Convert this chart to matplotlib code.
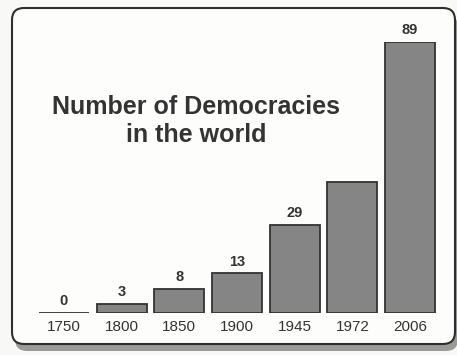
import matplotlib.pyplot as plt
from matplotlib.patches import FancyBboxPatch

years = ["1750", "1800", "1850", "1900", "1945", "1972", "2006"]
democracies = [0, 3, 8, 13, 29, 43, 89]
# the 1972 bar carries no number in the original
value_labels = ["0", "3", "8", "13", "29", "", "89"]

plt.rcParams['font.family'] = ['Liberation Sans', 'DejaVu Sans']

fig = plt.figure(figsize=(4.57, 3.55), dpi=100)
fig.patch.set_facecolor("#f8f8f6")

# drop shadow and rounded frame, kept behind the axes
shadow = FancyBboxPatch((0.15, 0.04), 4.43, 3.36,
                        boxstyle="round,pad=0,rounding_size=0.12",
                        transform=fig.dpi_scale_trans,
                        facecolor="#9a9a9a", edgecolor="none", zorder=-2)
frame = FancyBboxPatch((0.12, 0.11), 4.43, 3.36,
                       boxstyle="round,pad=0,rounding_size=0.12",
                       transform=fig.dpi_scale_trans,
                       facecolor="#fdfdfc", edgecolor="#2e2e2e",
                       linewidth=1.5, zorder=-1)
fig.add_artist(shadow)
fig.add_artist(frame)

ax = fig.add_axes([0.0643, 0.1183, 0.9086, 0.7634])
ax.set_facecolor("none")
x = list(range(len(years)))
bars = ax.bar(x, democracies, width=0.87, color="#858585",
              edgecolor="#333333", linewidth=1.3)

for bar, lab in zip(bars, value_labels):
    if lab:
        ax.text(bar.get_x() + bar.get_width() / 2, bar.get_height() + 1.6,
                lab, ha="center", va="bottom", fontsize=10.5,
                fontweight="bold", color="#333333", clip_on=False)

ax.set_xlim(-0.6, 6.6)
ax.set_ylim(0, 89)
ax.set_xticks(x)
ax.set_xticklabels(years, fontsize=11, color="#333333")
ax.tick_params(axis="x", length=0, pad=5)
ax.set_yticks([])
for s in ax.spines.values():
    s.set_visible(False)

fig.text(0.429, 0.659, "Number of Democracies\nin the world",
         ha="center", va="center", fontsize=18, fontweight="bold",
         color="#333333", linespacing=1.25)

fig.savefig("out.png", dpi=100, facecolor=fig.get_facecolor())
